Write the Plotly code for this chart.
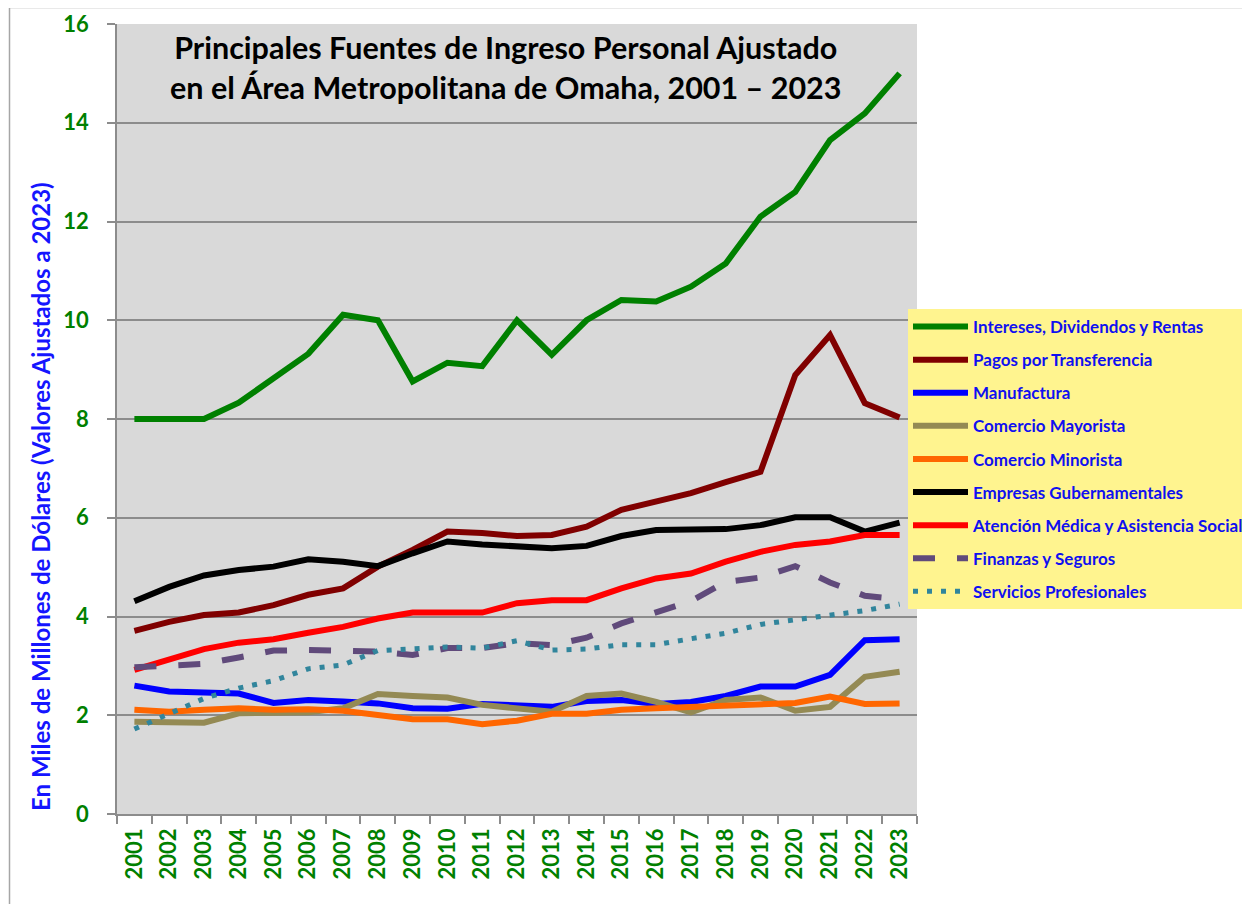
import plotly.graph_objects as go

years = [str(y) for y in range(2001, 2024)]

intereses = [8.0, 8.0, 8.0, 8.33, 8.82, 9.32, 10.11, 10.0, 8.76, 9.14, 9.07, 10.0,
             9.30, 10.0, 10.41, 10.38, 10.68, 11.15, 12.10, 12.60, 13.65, 14.19, 15.0]
pagos = [3.71, 3.89, 4.03, 4.08, 4.23, 4.44, 4.57, 5.01, 5.35, 5.72, 5.69, 5.63,
         5.65, 5.82, 6.16, 6.33, 6.50, 6.72, 6.93, 8.89, 9.70, 8.32, 8.03]
manufactura = [2.60, 2.48, 2.46, 2.44, 2.25, 2.31, 2.28, 2.24, 2.14, 2.13, 2.23, 2.19,
               2.17, 2.29, 2.31, 2.23, 2.27, 2.39, 2.58, 2.58, 2.82, 3.52, 3.54]
mayorista = [1.87, 1.86, 1.85, 2.04, 2.05, 2.06, 2.14, 2.43, 2.39, 2.36, 2.21, 2.14,
             2.07, 2.39, 2.44, 2.27, 2.06, 2.31, 2.36, 2.09, 2.17, 2.78, 2.88]
minorista = [2.11, 2.07, 2.11, 2.14, 2.11, 2.12, 2.09, 2.02, 1.92, 1.92, 1.82, 1.89,
             2.03, 2.03, 2.11, 2.14, 2.17, 2.17, 2.20, 2.25, 2.38, 2.23, 2.24]
empresas_gub = [4.31, 4.60, 4.83, 4.94, 5.01, 5.16, 5.11, 5.02, 5.28, 5.52, 5.46, 5.41,
                5.38, 5.43, 5.63, 5.75, 5.77, 5.77, 5.85, 6.01, 6.01, 5.72, 5.90]
atencion = [2.92, 3.12, 3.34, 3.47, 3.54, 3.67, 3.79, 3.96, 4.08, 4.08, 4.08, 4.27,
            4.33, 4.33, 4.57, 4.77, 4.87, 5.11, 5.31, 5.45, 5.52, 5.65, 5.65]
finanzas = [2.97, 3.02, 3.04, 3.17, 3.31, 3.32, 3.31, 3.29, 3.22, 3.36, 3.36, 3.46,
            3.42, 3.57, 3.86, 4.08, 4.31, 4.70, 4.79, 5.02, 4.69, 4.42, 4.35]
servicios = [1.72, 2.04, 2.34, 2.55, 2.70, 2.94, 3.02, 3.31, 3.35, 3.38, 3.36, 3.51,
             3.32, 3.34, 3.43, 3.43, 3.55, 3.66, 3.84, 3.94, 4.04, 4.12, 4.25]

series = [
    ("Intereses, Dividendos y Rentas", intereses, "#008000", "solid", 6),
    ("Pagos por Transferencia", pagos, "#800000", "solid", 6),
    ("Manufactura", manufactura, "#0000FF", "solid", 6),
    ("Comercio Mayorista", mayorista, "#948A54", "solid", 6),
    ("Comercio Minorista", minorista, "#FF6600", "solid", 6),
    ("Empresas Gubernamentales", empresas_gub, "#000000", "solid", 6),
    ("Atención Médica y Asistencia Social", atencion, "#FF0000", "solid", 6),
    ("Finanzas y Seguros", finanzas, "#604A7B", "22px,22px", 6),
    ("Servicios Profesionales", servicios, "#31859C", "5px,9px", 5),
]

y_ticks = [0, 2, 4, 6, 8, 10, 12, 14, 16]

fig = go.Figure()
for i, (name, vals, color, dash, w) in enumerate(series):
    fig.add_trace(go.Scatter(
        x=years, y=vals, mode="lines", name=name, legendgroup=f"g{i}",
        line=dict(color=color, width=w, dash=dash),
    ))

# page body has an 8px margin; work in screenshot pixels and convert
OFF = 8
W, H = 1242, 896
L, R, T, B = 117 - OFF, 333, 24 - OFF, 90
pw, ph = W - L - R, H - T - B

def px_x(p):
    return (p - OFF - L) / pw

def px_y(p):
    return (H - B - (p - OFF)) / ph

fig.update_layout(
    width=W, height=H, autosize=False,
    margin=dict(l=L, r=R, t=T, b=B, pad=0, autoexpand=False),
    paper_bgcolor="white", plot_bgcolor="#D9D9D9",
    font=dict(family="Lato", color="black"),
    showlegend=True,
    legend=dict(
        x=px_x(908), y=px_y(309), xanchor="left", yanchor="top",
        bgcolor="#FFF48F", borderwidth=0,
        font=dict(family="Lato", size=17, color="#1010F0", weight="bold"),
        tracegroupgap=8, itemwidth=55,
    ),
    xaxis=dict(
        type="category", range=[-0.5, 22.5], showgrid=False, automargin=False,
        showline=True, linecolor="#8C8C8C", linewidth=1.5,
        ticks="outside", ticklen=8, tickcolor="#8C8C8C", tickwidth=1.5,
        tickson="boundaries", tickangle=-90,
        tickfont=dict(family="Lato", size=22, color="#008000", weight="bold"),
        ticklabelstandoff=4,
    ),
    yaxis=dict(
        range=[0, 16], tickvals=y_ticks, showgrid=True, gridcolor="#8C8C8C", gridwidth=1.5,
        showline=True, linecolor="#8C8C8C", linewidth=1.5, zeroline=False, automargin=False,
        ticks="outside", ticklen=8, tickcolor="#8C8C8C", tickwidth=1.5,
        tickfont=dict(family="Lato", size=22, color="#008000", weight="bold"),
        ticklabelstandoff=14,
    ),
    annotations=[
        dict(
            text="Principales Fuentes de Ingreso Personal Ajustado<br>en el Área Metropolitana de Omaha, 2001 – 2023",
            x=px_x(505), y=px_y(67), xref="paper", yref="paper",
            xanchor="center", yanchor="middle", showarrow=False,
            font=dict(family="Lato", size=30.5, color="black", weight="bold"),
        ),
        dict(
            text="En Miles de Millones de Dólares (Valores Ajustados a 2023)",
            x=px_x(40), y=px_y(497), xref="paper", yref="paper",
            xanchor="center", yanchor="middle", textangle=-90, showarrow=False,
            font=dict(family="Lato", size=24, color="#1515FF", weight="bold"),
        ),
    ],
    shapes=[
        dict(type="line", xref="paper", yref="paper", x0=px_x(9.5), x1=px_x(9.5),
             y0=px_y(7.5), y1=px_y(904), line=dict(color="#A6A6A6", width=1.5)),
        dict(type="line", xref="paper", yref="paper", x0=px_x(9.5), x1=px_x(1250),
             y0=px_y(7.5), y1=px_y(7.5), line=dict(color="#A6A6A6", width=1.5)),
    ],
)

fig.write_html("out.html")
